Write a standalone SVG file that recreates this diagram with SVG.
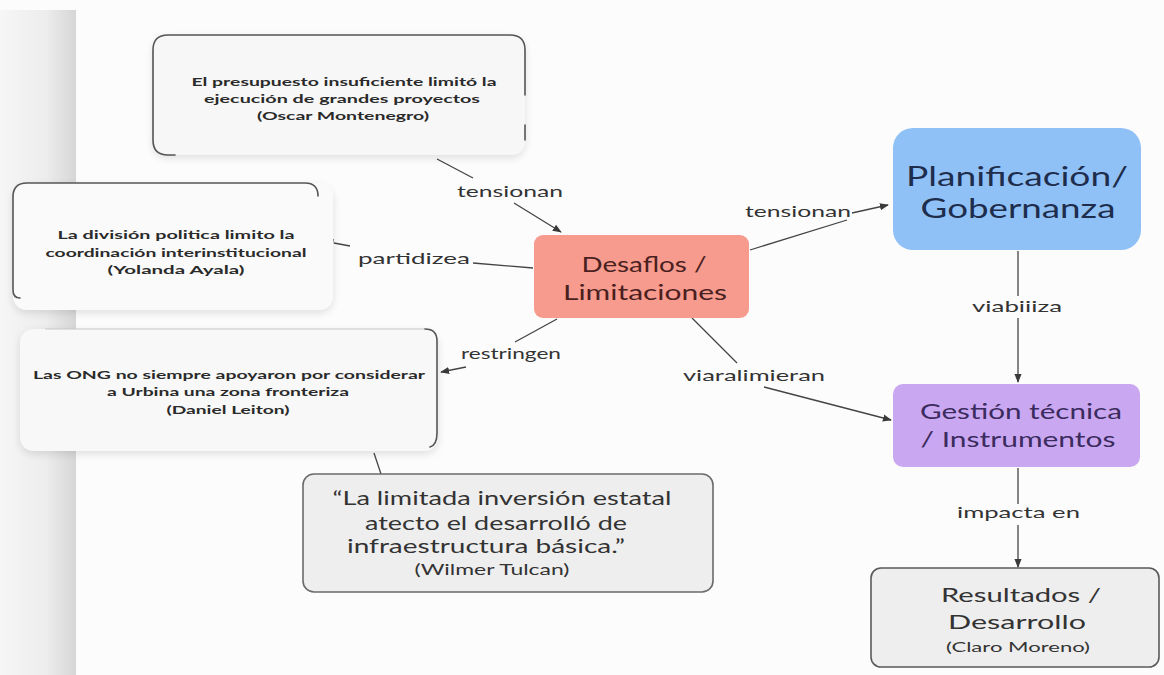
<svg xmlns="http://www.w3.org/2000/svg" width="1164" height="675" viewBox="0 0 1164 675">
  <defs>
    <linearGradient id="band" x1="0" y1="0" x2="1" y2="0">
      <stop offset="0" stop-color="#f6f6f6"/>
      <stop offset="0.6" stop-color="#ededed"/>
      <stop offset="1" stop-color="#d6d6d6"/>
    </linearGradient>
    <filter id="soft" x="-10%" y="-10%" width="120%" height="130%">
      <feGaussianBlur in="SourceAlpha" stdDeviation="4"/>
      <feOffset dx="0" dy="3"/>
      <feComponentTransfer><feFuncA type="linear" slope="0.12"/></feComponentTransfer>
      <feMerge><feMergeNode/><feMergeNode in="SourceGraphic"/></feMerge>
    </filter>
    <marker id="arrow" viewBox="0 0 10 10" refX="9" refY="5" markerWidth="9" markerHeight="9" markerUnits="userSpaceOnUse" orient="auto">
      <path d="M0,1 L10,5 L0,9 z" fill="#3a3a3a"/>
    </marker>
    <style>
      .quote { font-family: "Lato", "DejaVu Sans", sans-serif; font-weight: 700; font-size: 11px; fill: #2a2a2a; text-anchor: middle; }
      .lbl { font-family: "Lato", "Liberation Sans", sans-serif; font-size: 16px; fill: #333; }
      .edge { fill: none; stroke: #444; stroke-width: 1.3; }
      .node { font-family: "Lato", "Open Sans", sans-serif; text-anchor: middle; }
      .border { fill: none; stroke: #555; stroke-width: 1.6; stroke-linecap: round; }
    </style>
  </defs>

  <rect width="1164" height="675" fill="#fcfcfc"/>
  <rect x="0" y="10" width="76" height="665" fill="url(#band)"/>

  <g id="connectors">
    <line class="edge" x1="437" y1="159" x2="473" y2="178"/>
    <line class="edge" x1="514" y1="203" x2="561" y2="232" marker-end="url(#arrow)"/>
    <line class="edge" x1="533" y1="268" x2="473" y2="263"/>
    <path class="edge" d="M350,246 L334,243 M333,239 L332,248"/>
    <line class="edge" x1="557" y1="319" x2="515" y2="342"/>
    <line class="edge" x1="466" y1="367" x2="441" y2="372" marker-end="url(#arrow)"/>
    <line class="edge" x1="374" y1="453" x2="381" y2="474"/>
    <line class="edge" x1="750" y1="250" x2="847" y2="220"/>
    <line class="edge" x1="852" y1="213" x2="888" y2="205" marker-end="url(#arrow)"/>
    <line class="edge" x1="692" y1="318" x2="737" y2="363"/>
    <line class="edge" x1="764" y1="387" x2="891" y2="420" marker-end="url(#arrow)"/>
    <line class="edge" x1="1018" y1="251" x2="1018" y2="296"/>
    <line class="edge" x1="1018" y1="318" x2="1018" y2="382" marker-end="url(#arrow)"/>
    <line class="edge" x1="1018" y1="468" x2="1018" y2="504"/>
    <line class="edge" x1="1018" y1="525" x2="1018" y2="567" marker-end="url(#arrow)"/>

    <text class="lbl" x="457" y="197" textLength="106" lengthAdjust="spacingAndGlyphs">tensionan</text>
    <text class="lbl" x="358" y="264" textLength="112" lengthAdjust="spacingAndGlyphs">partidizea</text>
    <text class="lbl" x="461" y="359" textLength="100" lengthAdjust="spacingAndGlyphs">restringen</text>
    <text class="lbl" x="745" y="217" textLength="106" lengthAdjust="spacingAndGlyphs">tensionan</text>
    <text class="lbl" x="683" y="381" textLength="142" lengthAdjust="spacingAndGlyphs">viaralimieran</text>
    <text class="lbl" x="972" y="312" textLength="90" lengthAdjust="spacingAndGlyphs">viabiiiza</text>
    <text class="lbl" x="957" y="518" textLength="123" lengthAdjust="spacingAndGlyphs">impacta en</text>
  </g>

  <g id="quote-montenegro">
    <rect x="153" y="35" width="372" height="120" rx="14" fill="#f7f7f7" filter="url(#soft)"/>
    <path class="border" d="M168,35 L510,35 Q525,35 525,50 L525,95 M525,125 L525,140 M175,155 L168,155 Q153,155 153,140 L153,50 Q153,35 168,35"/>
    <text class="quote" x="344" y="86" textLength="305" lengthAdjust="spacingAndGlyphs">El presupuesto insuficiente limitó la</text>
    <text class="quote" x="342" y="103" textLength="276" lengthAdjust="spacingAndGlyphs">ejecución de grandes proyectos</text>
    <text class="quote" x="343" y="120" textLength="172" lengthAdjust="spacingAndGlyphs">(Oscar Montenegro)</text>
  </g>

  <g id="quote-ayala">
    <rect x="13" y="183" width="320" height="127" rx="14" fill="#fafafa" filter="url(#soft)"/>
    <path class="border" d="M13,290 L13,197 Q13,183 27,183 L305,183 Q318,183 318,196 M13,290 Q13,298 20,298"/>
    <text class="quote" x="176" y="239" textLength="237" lengthAdjust="spacingAndGlyphs">La división politica limito la</text>
    <text class="quote" x="176" y="257" textLength="261" lengthAdjust="spacingAndGlyphs">coordinación interinstitucional</text>
    <text class="quote" x="176" y="274" textLength="137" lengthAdjust="spacingAndGlyphs">(Yolanda Ayala)</text>
  </g>

  <g id="quote-leiton">
    <rect x="20" y="329" width="418" height="122" rx="14" fill="#f8f8f8" filter="url(#soft)"/>
    <path d="M45,329 L425,329" stroke="#c8c8c8" stroke-width="1.2" fill="none"/>
    <path class="border" d="M425,329 Q437,329 437,341 L437,433 Q437,445 430,447"/>
    <text class="quote" x="229" y="379" textLength="392" lengthAdjust="spacingAndGlyphs">Las ONG no siempre apoyaron por considerar</text>
    <text class="quote" x="228" y="396" textLength="242" lengthAdjust="spacingAndGlyphs">a Urbina una zona fronteriza</text>
    <text class="quote" x="228" y="414" textLength="123" lengthAdjust="spacingAndGlyphs">(Daniel Leiton)</text>
  </g>

  <g id="quote-tulcan">
    <rect x="303" y="474" width="410" height="118" rx="11" fill="#eeeeee" stroke="#6a6a6a" stroke-width="1.6"/>
    <g class="node" fill="#333" font-size="19">
      <text x="502" y="505" textLength="339" lengthAdjust="spacingAndGlyphs">“La limitada inversión estatal</text>
      <text x="496" y="530" textLength="262" lengthAdjust="spacingAndGlyphs">atecto el desarrolló de</text>
      <text x="486" y="553" textLength="278" lengthAdjust="spacingAndGlyphs">infraestructura básica.”</text>
      <text x="492" y="575" font-size="15" textLength="155" lengthAdjust="spacingAndGlyphs">(Wilmer Tulcan)</text>
    </g>
  </g>

  <g id="desafios">
    <rect x="534" y="235" width="215" height="83" rx="9" fill="#f69b8d"/>
    <g class="node" fill="#4a1f1f" font-size="21">
      <text x="644" y="272" textLength="125" lengthAdjust="spacingAndGlyphs">Desaflos /</text>
      <text x="645" y="300" textLength="164" lengthAdjust="spacingAndGlyphs">Limitaciones</text>
    </g>
  </g>

  <g id="planificacion">
    <rect x="893" y="128" width="248" height="122" rx="20" fill="#8fc1f7"/>
    <g class="node" fill="#1f2d4d" font-size="26">
      <text x="1017" y="186" textLength="222" lengthAdjust="spacingAndGlyphs">Planificación/</text>
      <text x="1018" y="218" textLength="195" lengthAdjust="spacingAndGlyphs">Gobernanza</text>
    </g>
  </g>

  <g id="gestion">
    <rect x="893" y="384" width="247" height="83" rx="10" fill="#caa8f1"/>
    <g class="node" fill="#3b2b5e" font-size="21">
      <text x="1021" y="419" textLength="202" lengthAdjust="spacingAndGlyphs">Gestión técnica</text>
      <text x="1018" y="447" textLength="195" lengthAdjust="spacingAndGlyphs">/ Instrumentos</text>
    </g>
  </g>

  <g id="resultados">
    <rect x="871" y="568" width="288" height="99" rx="10" fill="#eeeeee" stroke="#5a5a5a" stroke-width="1.6"/>
    <g class="node" fill="#333">
      <text x="1021" y="602" font-size="20" textLength="160" lengthAdjust="spacingAndGlyphs">Resultados /</text>
      <text x="1017" y="629" font-size="20" textLength="138" lengthAdjust="spacingAndGlyphs">Desarrollo</text>
      <text x="1018" y="652" font-size="14" textLength="144" lengthAdjust="spacingAndGlyphs">(Claro Moreno)</text>
    </g>
  </g>
</svg>
